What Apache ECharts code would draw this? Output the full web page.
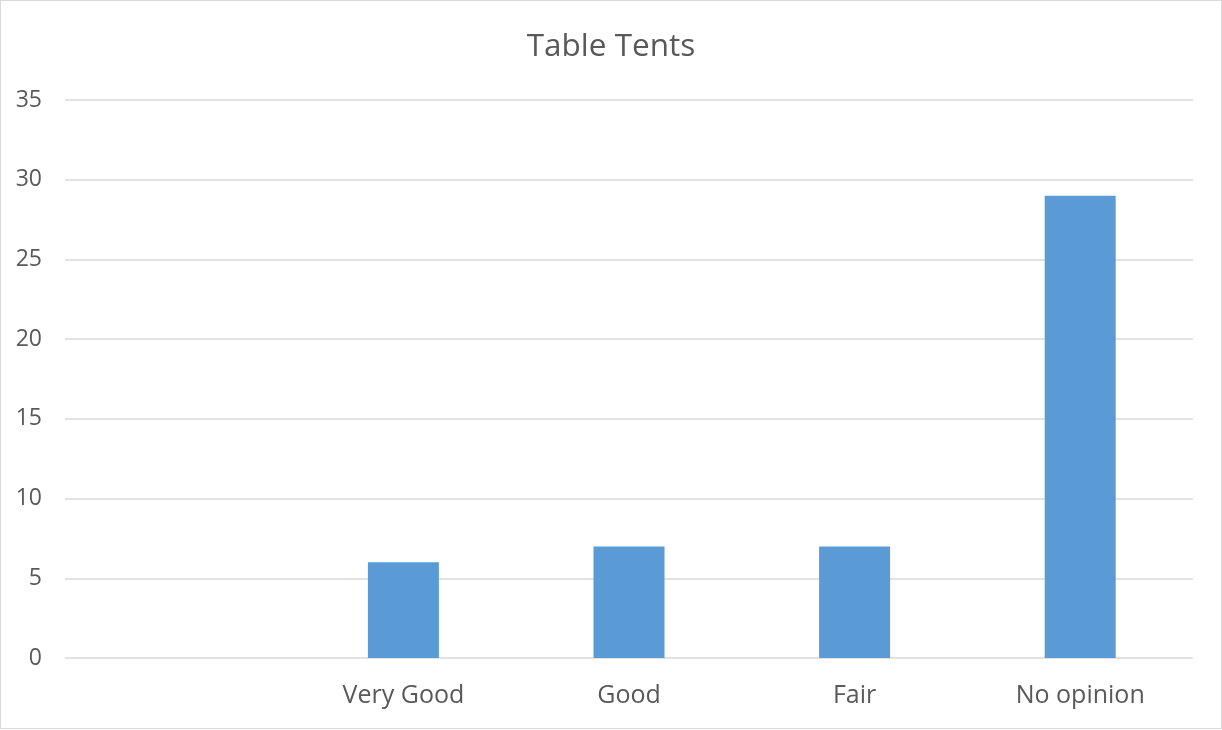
<!DOCTYPE html>
<html>
<head>
<meta charset="utf-8">
<script src="https://cdn.jsdelivr.net/npm/echarts@6/dist/echarts.min.js"></script>
<style>
  html, body { margin: 0; padding: 0; background: #fff; }
  #frame { position: absolute; left: 0; top: 0; width: 1220px; height: 727px; border: 1px solid #d9d9d9; }
  #chart { width: 1222px; height: 730px; }
</style>
</head>
<body>
<div id="frame"></div>
<div id="chart"></div>
<script>
const chartTitle = 'Table Tents';
const categories = ['', 'Very Good', 'Good', 'Fair', 'No opinion'];
const responses = [null, 6, 7, 7, 29];
const yMin = 0, yMax = 35, yStep = 5;

const textColor = '#595959';
const fontFamily = '"Open Sans", "Noto Sans", sans-serif';

const chart = echarts.init(document.getElementById('chart'), null, { renderer: 'canvas' });
chart.setOption({
  animation: false,
  backgroundColor: 'transparent',
  title: {
    text: chartTitle,
    left: 'center',
    top: 26,
    textStyle: { color: textColor, fontSize: 31.5, fontWeight: 'normal', fontFamily }
  },
  grid: { left: 65, right: 29, top: 100, bottom: 72, containLabel: false },
  xAxis: {
    type: 'category',
    data: categories,
    axisLine: { show: false },
    axisTick: { show: false },
    axisLabel: { color: textColor, fontSize: 25, fontFamily, margin: 25, interval: 0 }
  },
  yAxis: {
    type: 'value',
    min: yMin, max: yMax, interval: yStep,
    axisLine: { show: false },
    axisTick: { show: false },
    splitLine: { lineStyle: { color: '#d9d9d9', width: 1.5 } },
    axisLabel: { color: textColor, fontSize: 23, fontFamily, margin: 23, align: 'right' }
  },
  series: [{
    type: 'bar',
    data: responses,
    barWidth: 71,
    itemStyle: { color: '#5b9bd5' }
  }]
});
</script>
</body>
</html>
